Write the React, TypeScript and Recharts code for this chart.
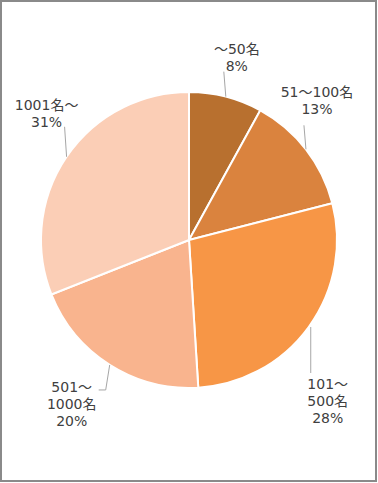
import React from "react";
import { PieChart, Pie, Cell } from "recharts";

const categories = ["～50名", "51～100名", "101～500名", "501～1000名", "1001名～"];
const values = [8, 13, 28, 20, 31];
const labelLines = [["～50名"], ["51～100名"], ["101～", "500名"], ["501～", "1000名"], ["1001名～"]];
const colors = ["#B8702F", "#DA833E", "#F79646", "#F9B48E", "#FBCEB6"];

const data = categories.map((name, i) => ({ name, value: values[i] }));

// label layout relative to the slice's outer edge point
const leaderPaths: number[][][] = [
  [[0, 0], [-2, -25]],
  [[0, 0], [-2, -24]],
  [[2, 0], [2, 46]],
  [[0, 0], [-4, 25], [-11, 25]],
  [[0, 0], [-2, -30]],
];
const textAnchors: number[][] = [
  [11, -43],
  [11, -52],
  [19, 62],
  [-38, 27],
  [-20, -47],
];
const LINE_H = 17;
const RAD = Math.PI / 180;

const renderLabel = (props: any) => {
  const { cx, cy, midAngle, outerRadius, index, value } = props;
  const ex = cx + outerRadius * Math.cos(-midAngle * RAD);
  const ey = cy + outerRadius * Math.sin(-midAngle * RAD);
  const pts = leaderPaths[index].map(([dx, dy]) => `${ex + dx},${ey + dy}`).join(" ");
  const [tx, ty] = textAnchors[index];
  const lines = [...labelLines[index], `${value}%`];
  return (
    <g key={`lbl-${index}`}>
      <polyline points={pts} fill="none" stroke="#a6a6a6" strokeWidth={1} />
      <text
        x={ex + tx}
        y={ey + ty}
        textAnchor="middle"
        fill="#404040"
        fontSize={14}
        fontFamily="'DejaVu Sans', 'Noto Sans CJK JP', sans-serif"
      >
        {lines.map((l, i) => (
          <tspan key={i} x={ex + tx} y={ey + ty + i * LINE_H}>
            {l}
          </tspan>
        ))}
      </text>
    </g>
  );
};

export default function App() {
  return (
    <div style={{ position: "absolute", left: 0, top: 0, width: 378, height: 483, background: "#fff" }}>
      <div
        style={{
          position: "absolute",
          left: 0,
          top: 0,
          width: 377,
          height: 482,
          boxSizing: "border-box",
          border: "2px solid #8a8a8a",
        }}
      />
      <div style={{ position: "absolute", left: 0, top: 0 }}>
        <PieChart width={378} height={483} margin={{ top: 0, right: 0, bottom: 0, left: 0 }}>
          <Pie
            data={data}
            dataKey="value"
            nameKey="name"
            cx={189}
            cy={240}
            outerRadius={148}
            startAngle={90}
            endAngle={-270}
            stroke="#ffffff"
            strokeWidth={2}
            label={renderLabel}
            labelLine={false}
            isAnimationActive={false}
          >
            {data.map((d, i) => (
              <Cell key={d.name} fill={colors[i]} />
            ))}
          </Pie>
        </PieChart>
      </div>
    </div>
  );
}
